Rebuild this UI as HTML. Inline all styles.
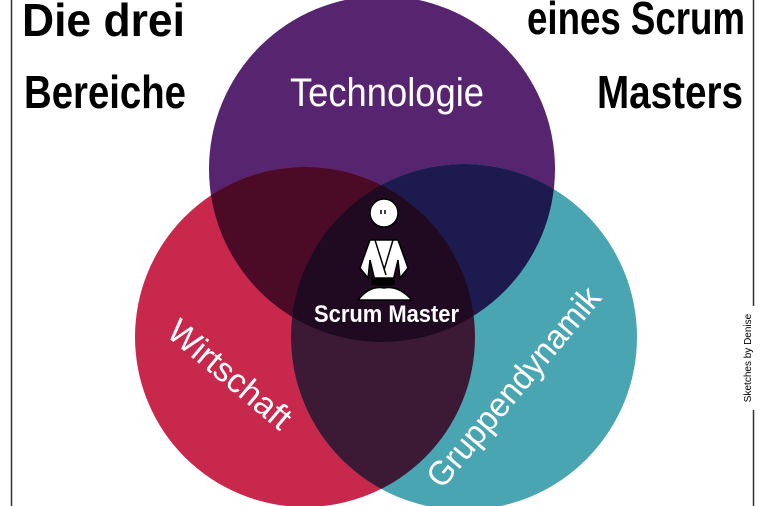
<!DOCTYPE html>
<html><head><meta charset="utf-8"><style>
html,body{margin:0;padding:0;background:#fff;width:766px;height:506px;overflow:hidden}
svg{display:block}
.t{font-family:"Liberation Sans",sans-serif;fill:#000}
.w{font-family:"Liberation Sans",sans-serif;fill:#fff}
</style></head><body>
<svg width="766" height="506" viewBox="0 0 766 506" xmlns="http://www.w3.org/2000/svg">
<defs>
<clipPath id="cT"><circle cx="382" cy="169" r="173"/></clipPath>
<clipPath id="cL"><circle cx="305" cy="337" r="170"/></clipPath>
<clipPath id="cR"><circle cx="464" cy="337" r="173"/></clipPath>
</defs>
<rect width="766" height="506" fill="#fff"/>
<line x1="11.5" y1="0" x2="11.5" y2="506" stroke="#333" stroke-width="1.5"/>
<line x1="753.5" y1="0" x2="753.5" y2="306" stroke="#333" stroke-width="1.5"/>
<line x1="753.5" y1="410" x2="753.5" y2="506" stroke="#333" stroke-width="1.5"/>
<text class="t" transform="translate(751,358) rotate(-90)" text-anchor="middle" font-size="10">Sketches by Denise</text>

<circle cx="382" cy="169" r="173" fill="#57246f"/>
<circle cx="305" cy="337" r="170" fill="#c9284d"/>
<circle cx="464" cy="337" r="173" fill="#4aa5b3"/>
<g clip-path="url(#cT)"><circle cx="305" cy="337" r="170" fill="#4b0a26"/><circle cx="464" cy="337" r="173" fill="#1d1a50"/></g>
<g clip-path="url(#cL)"><circle cx="464" cy="337" r="173" fill="#3c1a36"/></g>
<g clip-path="url(#cT)"><g clip-path="url(#cL)"><circle cx="464" cy="337" r="173" fill="#1f0a22"/></g></g>

<text class="t" x="22" y="36" font-size="46" font-weight="bold" textLength="163" lengthAdjust="spacingAndGlyphs">Die drei</text>
<text class="t" x="24" y="108" font-size="46" font-weight="bold" textLength="162" lengthAdjust="spacingAndGlyphs">Bereiche</text>
<text class="t" x="527" y="34" font-size="46" font-weight="bold" textLength="218" lengthAdjust="spacingAndGlyphs">eines Scrum</text>
<text class="t" x="597" y="108" font-size="46" font-weight="bold" textLength="146" lengthAdjust="spacingAndGlyphs">Masters</text>

<text class="w" x="290" y="106" font-size="40" textLength="194" lengthAdjust="spacingAndGlyphs">Technologie</text>
<text class="w" x="314" y="322" font-size="24" font-weight="bold" textLength="145" lengthAdjust="spacingAndGlyphs">Scrum Master</text>
<text class="w" transform="translate(165,335) rotate(40)" font-size="34" textLength="150" lengthAdjust="spacingAndGlyphs">Wirtschaft</text>
<text class="w" transform="translate(442,490) rotate(-50)" font-size="34" textLength="250" lengthAdjust="spacingAndGlyphs">Gruppendynamik</text>

<!-- figure -->
<g stroke="#000" stroke-width="1.5">
<circle cx="384" cy="213" r="14" fill="#fff"/>
<path d="M370 240 L398 240 L408 268 L400 278 L398 260 L392 285 L376 285 L370 260 L368 278 L360 268 Z" fill="#fff"/>
<path d="M358 300 Q370 285 384 288 Q398 285 412 300 Z" fill="#fff"/>
<path d="M375 240 L386 275 M393 240 L384 270" fill="none"/>
<rect x="372" y="278" width="22" height="6" fill="#000"/>
</g>
<line x1="381" y1="210" x2="381" y2="214" stroke="#000" stroke-width="1.5"/>
<line x1="385" y1="210" x2="385" y2="214" stroke="#000" stroke-width="1.5"/>
</svg>
</body></html>
